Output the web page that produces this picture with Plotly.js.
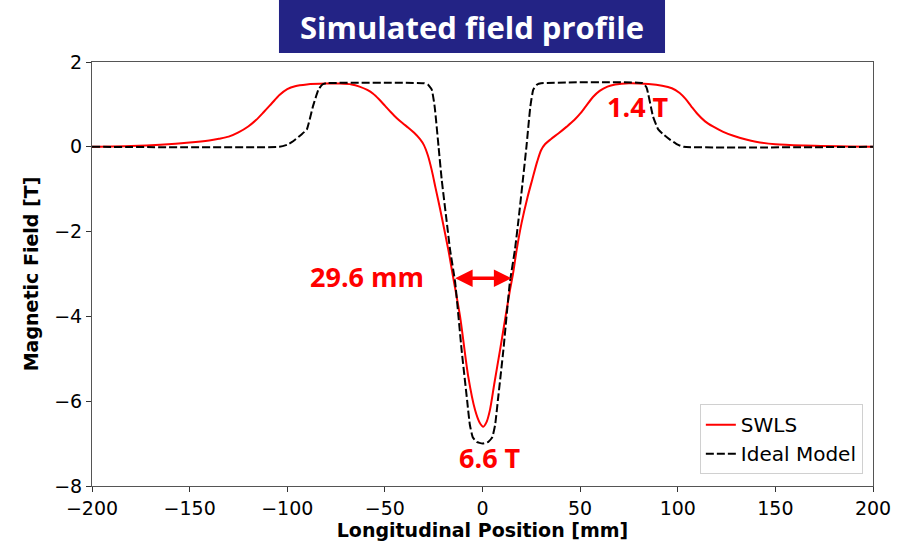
<!DOCTYPE html>
<html>
<head>
<meta charset="utf-8">
<script src="https://cdn.plot.ly/plotly-3.0.1.min.js"></script>
<style>html,body{margin:0;padding:0;background:#fff;}#chart{width:912px;height:541px;}</style>
</head>
<body>
<div id="chart"></div>
<script>
// SWLS simulated profile
const swlsX = [-200,-180,-165,-150,-140,-135,-130,-125,-120,-116,-112,-108,-104,-100,-96,-90,-80,-73,-67,-63,-59,-56,-53,-50,-47,-44,-41,-38,-35,-32,-30,-28,-26,-24,-21.8,-17.5,-15.1,-11.5,-7.3,-3.8,-1.5,0.4,2,3.8,6,9,12,14.1,15.6,17.5,20,23,25.5,28,30,32,35,39,43,47,50,53,56.7,60,64,68,75,85,92,97,101,104,107,110,114,118,123,128.5,135,140,150,165,200];
const swlsY = [0,0.02,0.05,0.1,0.15,0.19,0.24,0.34,0.48,0.63,0.82,1.02,1.22,1.36,1.43,1.47,1.49,1.49,1.47,1.42,1.34,1.25,1.12,0.97,0.82,0.68,0.56,0.45,0.33,0.18,0.04,-0.2,-0.55,-0.98,-1.45,-2.43,-3.06,-4.0,-5.42,-6.21,-6.5,-6.6,-6.5,-6.21,-5.6,-4.79,-3.95,-3.37,-3.0,-2.43,-1.8,-1.2,-0.77,-0.35,-0.08,0.06,0.18,0.32,0.47,0.63,0.78,0.96,1.18,1.32,1.42,1.47,1.5,1.48,1.44,1.38,1.27,1.13,0.95,0.78,0.6,0.48,0.36,0.26,0.17,0.12,0.06,0.03,0];
// Ideal model profile
const idealX = [-200,-104,-100,-97,-93,-90,-86.8,-84,-82,-80,-30,-28,-26,-24.5,-22.5,-20.9,-18.5,-16.6,-14,-10.7,-7.9,-6.5,-5,-3,0,3,5,6.5,7.9,10.7,14,16.6,18.5,20.7,22.5,24.5,26,28,30,82,84,87.3,90,93,96,100,103,200];
const idealY = [0,0,0.05,0.13,0.28,0.41,0.96,1.35,1.47,1.5,1.5,1.47,1.35,0.95,0.0,-0.77,-1.7,-2.43,-3.2,-4.79,-5.97,-6.55,-6.85,-6.96,-7.0,-6.96,-6.85,-6.55,-5.97,-4.79,-3.2,-2.43,-1.7,-0.77,0.0,0.95,1.35,1.47,1.5,1.5,1.4,0.72,0.41,0.28,0.17,0.05,0,0];
const seriesNames = ["SWLS", "Ideal Model"];
const xTicks = [-200,-150,-100,-50,0,50,100,150,200];
const yTicks = [-8,-6,-4,-2,0,2];
const fwhmMm = 29.6;
const fwhmLevel = -3.1;
const peakLabel = {x: 79.5, y: 0.96, text: "1.4 T"};
const widthLabel = {x: -59.3, y: -3.07, text: "29.6 mm"};
const minLabel = {x: 3.8, y: -7.33, text: "6.6 T"};
const chartTitle = "Simulated field profile";

const tickFont = {family: "DejaVu Sans", size: 19, color: "#000"};
const annFont = {family: "Open Sans", size: 27, color: "#ff0000", weight: 700};
const axisTitleFont = {family: "DejaVu Sans", size: 19, color: "#000"};

const traces = [
  {x: swlsX, y: swlsY, name: seriesNames[0], mode: "lines", type: "scatter",
   line: {color: "#ff0000", width: 2, shape: "spline", smoothing: 0.8}},
  {x: idealX, y: idealY, name: seriesNames[1], mode: "lines", type: "scatter",
   line: {color: "#000000", width: 2, dash: "8px,3px", shape: "spline", smoothing: 0.4}}
];

const layout = {
  width: 912, height: 541,
  margin: {l: 92, r: 39, t: 62, b: 55},
  paper_bgcolor: "#fff", plot_bgcolor: "#fff",
  showlegend: true,
  xaxis: {range: [-200, 200], tickvals: xTicks, ticktext: xTicks.map(v => v < 0 ? "\u2212" + Math.abs(v) : String(v)),
    showgrid: false, zeroline: false, showline: true, mirror: true, linecolor: "#555", linewidth: 1,
    ticks: "outside", ticklen: 5, tickcolor: "#333", tickfont: tickFont,
    title: {text: "<b>Longitudinal Position [mm]</b>", font: axisTitleFont, standoff: 6}},
  yaxis: {range: [-8, 2], tickvals: yTicks, ticktext: yTicks.map(v => v < 0 ? "\u2212" + Math.abs(v) : String(v)),
    showgrid: false, zeroline: false, showline: true, mirror: true, linecolor: "#555", linewidth: 1,
    ticks: "outside", ticklen: 5, tickcolor: "#333", tickfont: tickFont,
    title: {text: "<b>Magnetic Field [T]</b>", font: axisTitleFont, standoff: 10}},
  legend: {x: 0.987, y: 0.028, xanchor: "right", yanchor: "bottom",
    bgcolor: "#fff", bordercolor: "#d0d0d0", borderwidth: 1,
    font: {family: "DejaVu Sans", size: 20, color: "#000"}, tracegroupgap: 0},
  shapes: [
    {type: "rect", xref: "paper", yref: "paper", x0: 0.2394, x1: 0.7337, y0: 1.0212, y1: 1.1462,
     fillcolor: "#232385", line: {width: 0}, layer: "above"}
  ],
  annotations: [
    {xref: "paper", yref: "paper", x: 0.4866, y: 1.0837, text: "<b>" + chartTitle + "</b>", showarrow: false,
     font: {family: "Open Sans", size: 31, color: "#fff"}, xanchor: "center", yanchor: "middle"},
    {x: peakLabel.x, y: peakLabel.y, text: "<b>" + peakLabel.text + "</b>", showarrow: false, font: annFont},
    {x: widthLabel.x, y: widthLabel.y, text: "<b>" + widthLabel.text + "</b>", showarrow: false, font: annFont},
    {x: minLabel.x, y: minLabel.y, text: "<b>" + minLabel.text + "</b>", showarrow: false, font: annFont},
    {x: fwhmMm / 2, y: fwhmLevel, ax: -fwhmMm / 2, ay: fwhmLevel, axref: "x", ayref: "y", xref: "x", yref: "y",
     text: "", showarrow: true, arrowhead: 2, arrowside: "end+start", arrowsize: 1, arrowwidth: 3.5, arrowcolor: "#ff0000",
     standoff: 0, startstandoff: 0}
  ]
};

Plotly.newPlot("chart", traces, layout, {displayModeBar: false, staticPlot: true});
</script>
</body>
</html>
